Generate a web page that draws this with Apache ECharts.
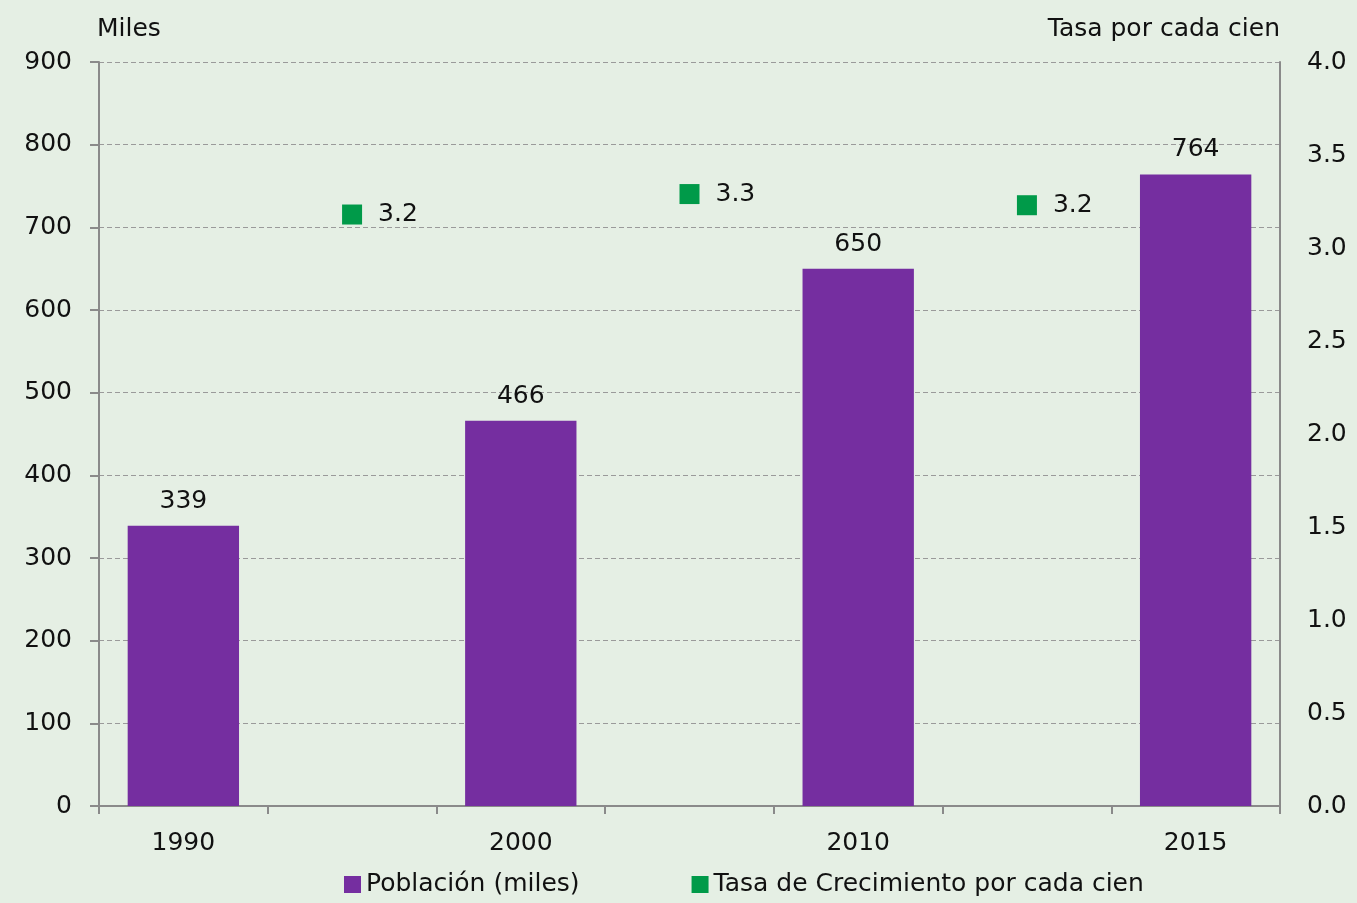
<!DOCTYPE html>
<html>
<head>
<meta charset="utf-8">
<script src="https://cdn.jsdelivr.net/npm/echarts@6/dist/echarts.min.js"></script>
<style>
  html, body { margin: 0; padding: 0; background: #e5efe4; }
  #chart { width: 1357px; height: 903px; }
</style>
</head>
<body>
<div id="chart"></div>
<script>
  // categorias del eje x (los huecos llevan la tasa de crecimiento)
  var categories = ['1990', '', '2000', '', '2010', '', '2015']
  // poblacion en miles
  var poblacion = [339, null, 466, null, 650, null, 764]
  // tasa de crecimiento por cada cien
  var tasa = [null, 3.18, null, 3.29, null, 3.23, null]
  var leftTicks = [0, 900, 100]
  var rightTicks = [0, 4, 0.5]

  var font = 'DejaVu Sans'
  var fs = 25
  var chart = echarts.init(document.getElementById('chart'))

  chart.setOption({
    backgroundColor: '#e5efe4',
    animation: false,
    textStyle: { fontFamily: font },
    grid: { left: 99, right: 77, top: 62, bottom: 97 },
    legend: {
      bottom: 1,
      left: 339,
      itemWidth: 17,
      itemHeight: 17,
      itemGap: 112,
      textStyle: { fontSize: fs, color: '#111', fontFamily: font },
      data: [
        { name: 'Población (miles)', icon: 'rect' },
        { name: 'Tasa de Crecimiento por cada cien', icon: 'rect' }
      ]
    },
    xAxis: {
      type: 'category',
      data: categories,
      boundaryGap: true,
      axisLine: { lineStyle: { color: '#8a8a8a', width: 2 } },
      axisTick: { show: true, interval: 0, length: 8, lineStyle: { color: '#8a8a8a', width: 2 } },
      axisLabel: { interval: 0, fontSize: fs, color: '#111', margin: 25 }
    },
    yAxis: [
      {
        type: 'value',
        min: leftTicks[0],
        max: leftTicks[1],
        interval: leftTicks[2],
        name: 'Miles',
        nameLocation: 'end',
        nameGap: 20,
        nameTextStyle: { fontSize: fs, color: '#111', align: 'left', padding: [0, 0, 0, -2] },
        axisLine: { show: true, lineStyle: { color: '#8a8a8a', width: 2 } },
        axisTick: { show: true, length: 9, lineStyle: { color: '#8a8a8a', width: 2 } },
        axisLabel: { fontSize: fs, color: '#111', margin: 27 },
        splitLine: { lineStyle: { color: '#9a9a9a', type: [5, 3], width: 1 } }
      },
      {
        type: 'value',
        position: 'right',
        min: rightTicks[0],
        max: rightTicks[1],
        interval: rightTicks[2],
        name: 'Tasa por cada cien',
        nameLocation: 'end',
        nameGap: 20,
        nameTextStyle: { fontSize: fs, color: '#111', align: 'right' },
        axisLine: { show: true, lineStyle: { color: '#8a8a8a', width: 2 } },
        axisTick: { show: false },
        axisLabel: {
          fontSize: fs, color: '#111', margin: 27,
          formatter: function (v) { return v.toFixed(1) }
        },
        splitLine: { show: false }
      }
    ],
    series: [
      {
        name: 'Población (miles)',
        type: 'bar',
        data: poblacion,
        barWidth: '66%',
        itemStyle: { color: '#752ea0' },
        label: {
          show: true,
          position: 'top',
          distance: 12,
          fontSize: fs,
          color: '#111'
        }
      },
      {
        name: 'Tasa de Crecimiento por cada cien',
        type: 'scatter',
        yAxisIndex: 1,
        data: tasa,
        symbol: 'rect',
        symbolSize: 20,
        itemStyle: { color: '#009a49', opacity: 1 },
        label: {
          show: true,
          position: 'right',
          distance: 16,
          fontSize: fs,
          color: '#111',
          formatter: function (p) { return p.value.toFixed(1) }
        }
      }
    ]
  })
</script>
</body>
</html>
